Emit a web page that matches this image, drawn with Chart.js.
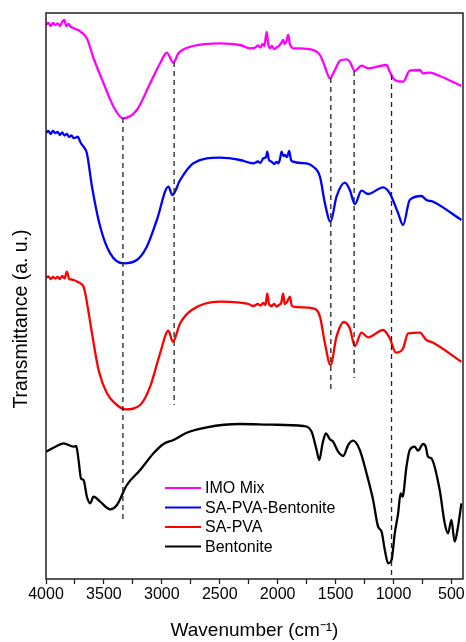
<!DOCTYPE html>
<html>
<head>
<meta charset="utf-8">
<script src="https://cdn.jsdelivr.net/npm/chart.js@4.4.0/dist/chart.umd.min.js"></script>
<style>
html,body{margin:0;padding:0;background:#fff;}
canvas{display:block;}
</style>
</head>
<body>
<canvas id="c" width="466" height="642"></canvas>
<script>
// ---- Data (wavenumber in cm-1, transmittance in arbitrary units, offset per curve) ----
const seriesNames = ["IMO Mix", "SA-PVA-Bentonite", "SA-PVA", "Bentonite"];
const seriesColors = ["#ff00ff", "#0000ff", "#ff0000", "#000000"];

const imoWn = [4000,3980,3960,3940,3920,3900,3880,3860,3842,3825,3805,3785,3762,3740,3720,3700,3676,3641,3590,3503,3417,3336,3216,3101,3015,2957,2900,2857,2728,2497,2325,2239,2200,2170,2150,2130,2115,2095,2080,2065,2050,2030,2010,1990,1970,1952,1940,1925,1909,1895,1880,1866,1808,1693,1635,1592,1549,1506,1463,1405,1377,1334,1276,1219,1060,1032,989,917,860,773,745,687,601,414];
const imoT  = [554,556,553,556,554,555.5,553,557,559,553,555,552,551,549.5,549,547,545,539,521,495.7,472.3,460.7,469,495.7,515.7,526.3,516.3,525.7,533,535.7,534,530.7,531,533.5,531.5,535,533,547,534,531,533,530,531.5,533,536,539,535,538,544,535,532,530.7,530.7,529,524,512.3,500.7,509,518.3,519.7,517.3,508,513.3,510.7,514,507.3,499,497.3,508.3,509,505.7,506.3,503,493];

const spbWn = [4000,3980,3960,3940,3920,3900,3880,3860,3840,3820,3800,3780,3762,3740,3728,3698,3676,3647,3603,3532,3446,3331,3216,3130,3043,2943,2909,2842,2728,2497,2325,2210,2170,2150,2124,2100,2090,2075,2052,2030,2010,1995,1980,1966,1950,1937,1920,1900,1885,1866,1800,1751,1693,1635,1592,1544,1492,1420,1377,1334,1276,1219,1090,1032,960,917,860,759,716,658,414];
const spbT  = [446,448,445,448,446,447,444,446.5,443.5,445,442,443.5,441,441.5,442.3,435.7,432.3,425.7,392.3,352.3,325.7,315.7,319,332.3,359,392.3,384,399,415.7,421.3,419,415.7,417.5,416,420.7,422,427.3,419,417.3,415,417,415.7,420,427.3,423,424,422,428,419,417.3,416,415.7,412.3,402.3,375.7,357.3,382.3,396.3,389,375,388.3,385,391.7,385.7,365.7,354,379,383,379,377.3,359];

const spWn = [4000,3980,3960,3940,3920,3900,3880,3860,3840,3820,3800,3780,3760,3728,3704,3676,3661,3603,3546,3474,3388,3316,3187,3101,3015,2943,2905,2842,2742,2497,2325,2250,2210,2170,2150,2124,2105,2090,2075,2052,2030,2010,1990,1970,1952,1940,1920,1894,1880,1866,1693,1635,1592,1544,1492,1429,1377,1334,1276,1219,1090,1032,980,917,874,773,716,658,414];
const spT  = [301.3,302.5,300,302,300.5,302,300,303,300.5,307.3,300,299.5,299,297.3,295.7,292.3,285.7,245.7,209,185.7,174,169.7,174,192.3,225.7,248.3,237.3,255.7,269,277.3,276.3,275,273,275,273.5,276,274,285.7,275,273,275,272.5,274,276,285.7,275,277,282.3,274,272.3,270.7,262.3,235.7,214,242.3,257,250.7,233,246.3,241.7,249,240.7,226.3,230.7,245.7,246.3,239,236.3,217.3];

const benWn = [4000,3906,3848,3762,3739,3719,3698,3676,3647,3618,3590,3532,3446,3388,3302,3187,3072,2986,2900,2785,2612,2325,2038,1779,1707,1664,1641,1612,1584,1549,1521,1478,1434,1391,1348,1291,1233,1176,1133,1103,1075,1046,1017,989,960,939,922,888,860,817,788,745,722,702,673,601,558,529,500,472,443,414];
const benT  = [127.3,133,135.7,132.3,133,119,100.7,99,82.3,75.7,82.3,77.3,69.7,74,94,109,125.7,135,139,146.3,151.7,155,154.3,153,147.3,129,119,135.7,145.7,139.7,137.3,127.3,123,134,138.3,129,105.7,79,52.3,47.3,29,15.7,19,45.7,65.7,85.7,82.3,112.3,129,132.3,128.3,135,132.3,122.3,120.7,89,55.7,45.7,59,37.3,52.3,75.7];

// Dashed guide lines: wavenumber, top and bottom (a.u.)
const dashWn = [3336, 2894, 1541, 1340, 1017];
const dashTop = [461, 517, 501, 508, 504];
const dashBottom = [57, 174, 187, 201, 0];

// Axis ticks
const xTicks = [4000,3750,3500,3250,3000,2750,2500,2250,2000,1750,1500,1250,1000,750,500];
const xMin = 400, xMax = 4000;
const yMin = 0, yMax = 566;

// ---- Build datasets ----
function pts(wn, t){ return wn.map((w,i)=>({x:w, y:t[i]})); }
const curves = [[imoWn,imoT],[spbWn,spbT],[spWn,spT],[benWn,benT]];
const datasets = [];
dashWn.forEach((w,i)=>{
  datasets.push({
    label: 'guide'+i,
    data: [{x:w,y:dashTop[i]},{x:w,y:dashBottom[i]}],
    borderColor: '#222',
    borderWidth: 1.3,
    borderDash: [5,4],
    pointRadius: 0,
    fill: false
  });
});
curves.forEach((c,i)=>{
  datasets.push({
    label: seriesNames[i],
    data: pts(c[0], c[1]),
    borderColor: seriesColors[i],
    borderWidth: 2.3,
    pointRadius: 0,
    fill: false,
    cubicInterpolationMode: 'monotone'
  });
});

const FONT = "'Liberation Sans', Arial, sans-serif";

const framePlugin = {
  id: 'frame',
  afterDraw(chart){
    const {ctx, chartArea:a} = chart;
    ctx.save();
    ctx.strokeStyle = '#222';
    ctx.lineWidth = 1.5;
    ctx.strokeRect(a.left, a.top, a.right - a.left, a.bottom - a.top);
    // legend
    ctx.font = "16px " + FONT;
    ctx.textBaseline = 'middle';
    ctx.textAlign = 'left';
    const ys = [488, 507.5, 527, 546.5];
    seriesNames.forEach((n,i)=>{
      ctx.strokeStyle = seriesColors[i];
      ctx.lineWidth = 2;
      ctx.beginPath();
      ctx.moveTo(165, ys[i]);
      ctx.lineTo(201, ys[i]);
      ctx.stroke();
      ctx.fillStyle = '#000';
      ctx.fillText(n, 205, ys[i]+1);
    });
    // y title
    ctx.translate(21.5, 319);
    ctx.rotate(-Math.PI/2);
    ctx.textAlign = 'center';
    ctx.font = "19.5px " + FONT;
    ctx.fillText('Transmittance (a. u.)', 0, 0);
    ctx.restore();
  }
};

new Chart(document.getElementById('c'), {
  type: 'line',
  data: { datasets },
  options: {
    responsive: false,
    animation: false,
    parsing: true,
    layout: { padding: { top: 13, right: 3, left: 0, bottom: 0 } },
    plugins: { legend: { display: false }, tooltip: { enabled: false } },
    scales: {
      x: {
        type: 'linear',
        reverse: true,
        min: xMin, max: xMax,
        afterBuildTicks(scale){ scale.ticks = xTicks.map(v=>({value:v})); },
        afterFit(scale){ scale.height = 63; },
        grid: { drawOnChartArea: false, drawTicks: true, tickLength: 5, tickColor: '#222', tickWidth: 1.3 },
        border: { display: false },
        ticks: {
          padding: 1,
          autoSkip: false,
          maxRotation: 0,
          color: '#000',
          font: { family: FONT, size: 16 },
          callback: (v)=> (v % 500 === 0 ? String(v) : '')
        },
        title: {
          display: true,
          text: 'Wavenumber (cm\u207B\u00B9)',
          color: '#000',
          font: { family: FONT, size: 19 },
          padding: { top: 0, bottom: 0 }
        }
      },
      y: {
        type: 'linear',
        min: yMin, max: yMax,
        afterFit(scale){ scale.width = 46; },
        grid: { display: false },
        border: { display: false },
        ticks: { display: false }
      }
    }
  },
  plugins: [framePlugin]
});
</script>
</body>
</html>
